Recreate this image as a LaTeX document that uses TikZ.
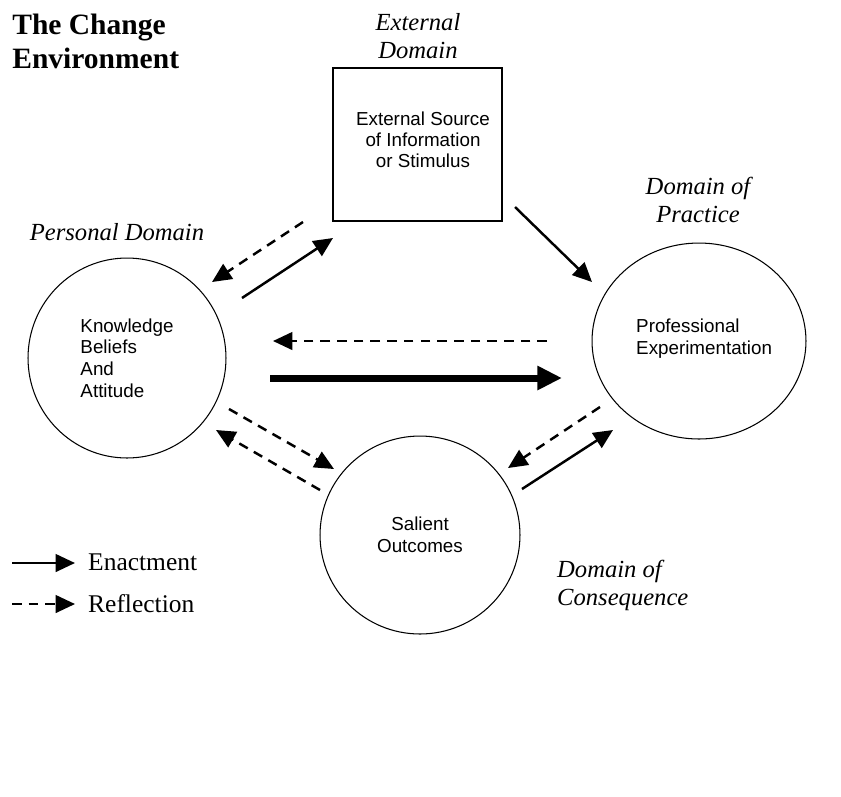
\documentclass[tikz,border=0pt]{standalone}
\usepackage{fontspec}
\setmainfont{Liberation Serif}
\setsansfont{Liberation Sans}
\usepackage{tikz}
\usetikzlibrary{arrows.meta}
\usetikzlibrary{shapes.geometric}
\tikzset{sphere/.style={draw=black, line width=0.6pt, ellipse, inner sep=0pt,
   font=\sffamily\fontsize{10.7}{12.5}\selectfont, align=left},
 source/.style={draw=black, line width=0.8pt, rectangle, inner sep=0pt},
 domlabel/.style={font=\itshape\fontsize{14}{16}\selectfont, align=center},
 enact/.style={-{Triangle[length=11pt,width=10pt]}, line width=1.4pt},
 reflect/.style={enact, dash pattern=on 5.5pt off 4pt},
 bigenact/.style={-{Triangle[length=14pt,width=13pt]}, line width=4pt},
 }

\begin{document}
\begin{tikzpicture}[x=0.02cm, y=-0.02cm]
        \useasboundingbox (0,0) rectangle (841,796);
        % title and domain labels
        \node[anchor=west, align=left, inner sep=0pt, font=\bfseries\fontsize{16.8}{19.3}\selectfont] (title) at (12, 41) {The Change\\Environment};
        \node[domlabel] (extlabel) at (418, 36) {External\\Domain};
        \node[domlabel] (perslabel) at (117, 232) {Personal Domain};
        \node[domlabel] (praclabel) at (698, 200) {Domain of\\Practice};
        \node[domlabel, align=left, anchor=west] (conslabel) at (551, 585) {Domain of\\Consequence};
        % the four domains
        \node[source, minimum width=3.38cm, minimum height=3.06cm] (ext) at (417.5, 144.5) {};
        \node[align=center, font=\sffamily\fontsize{10.7}{12}\selectfont] (exttext) at (423, 140) {External Source\\of Information\\or Stimulus};
        \node[sphere, minimum width=3.96cm, minimum height=4cm, font=\sffamily\fontsize{10.7}{12.3}\selectfont] (pers) at (127, 358) {Knowledge\\Beliefs\\And\\Attitude};
        \node[sphere, minimum width=4.28cm, minimum height=3.92cm] (prac) at (699, 341) {};
        \node[anchor=west, align=left, font=\sffamily\fontsize{10.7}{12.5}\selectfont] (pracitem) at (630, 339) {Professional\\Experimentation};
        \node[sphere, minimum width=4cm, minimum height=3.96cm, align=center] (cons) at (420, 535) {Salient\\Outcomes};
        % arrow ends
        \coordinate (pe1) at (212, 282); \coordinate (pe2) at (303, 222);
        \coordinate (pe3) at (242, 298); \coordinate (pe4) at (333, 238);
        \coordinate (ep1) at (515, 207); \coordinate (ep2) at (592, 282);
        \coordinate (pp1) at (547, 341); \coordinate (pp2) at (273, 341);
        \coordinate (pp3) at (270, 378); \coordinate (pp4) at (562, 378);
        \coordinate (pc1) at (229, 409); \coordinate (pc2) at (334, 469);
        \coordinate (pc3) at (320, 490); \coordinate (pc4) at (216, 430);
        \coordinate (cp1) at (600, 407); \coordinate (cp2) at (508, 468);
        \coordinate (cp3) at (522, 489); \coordinate (cp4) at (613, 430);
        \draw[reflect] (pe2) -- (pe1);
        \draw[enact] (pe3) -- (pe4);
        \draw[enact] (ep1) -- (ep2);
        \draw[reflect] (pp1) -- (pp2);
        \draw[bigenact] (pp3) -- (pp4);
        \draw[reflect] (pc1) -- (pc2);
        \draw[reflect] (pc3) -- (pc4);
        \draw[reflect] (cp1) -- (cp2);
        \draw[enact] (cp3) -- (cp4);
        % legend
        \coordinate (leg1) at (12, 563); \coordinate (leg2) at (75, 563);
        \coordinate (leg3) at (12, 604); \coordinate (leg4) at (75, 604);
        \draw[enact] (leg1) -- (leg2);
        \draw[reflect] (leg3) -- (leg4);
        \node[anchor=west, font=\fontsize{14.5}{16}\selectfont] (enactment) at (82, 562) {Enactment};
        \node[anchor=west, font=\fontsize{14.5}{16}\selectfont] (reflection) at (82, 604) {Reflection};
    \end{tikzpicture}
\end{document}
